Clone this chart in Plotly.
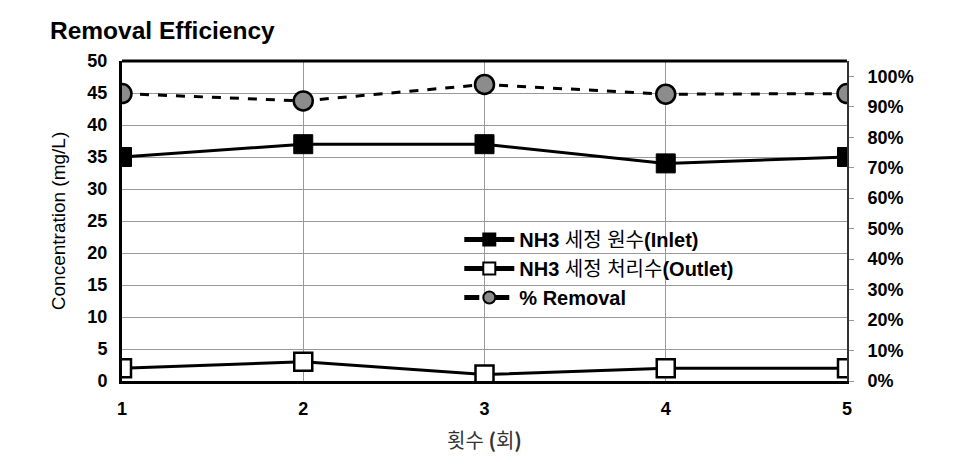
import plotly.graph_objects as go

runs = [1, 2, 3, 4, 5]
inlet = [35, 37, 37, 34, 35]
outlet = [2, 3, 1, 2, 2]
removal = [0.943, 0.919, 0.973, 0.941, 0.943]

names = ["<b>NH3</b> 세정 원수<b>(Inlet)</b>", "<b>NH3</b> 세정 처리수<b>(Outlet)</b>", "<b>% Removal</b>"]
FONT = "Liberation Sans, Arial, Noto Sans CJK KR, sans-serif"

fig = go.Figure()
fig.add_trace(go.Scatter(
    x=runs, y=inlet, name=names[0], mode="lines+markers",
    line=dict(color="black", width=3),
    marker=dict(symbol="square", size=19, color="black", line=dict(color="black", width=1)),
))
fig.add_trace(go.Scatter(
    x=runs, y=outlet, name=names[1], mode="lines+markers",
    line=dict(color="black", width=3),
    marker=dict(symbol="square", size=18, color="white", line=dict(color="black", width=2.5)),
))
fig.add_trace(go.Scatter(
    x=runs, y=removal, name=names[2], mode="lines+markers", yaxis="y2",
    line=dict(color="black", width=3, dash="dash"),
    marker=dict(symbol="circle", size=19, color="#8c8c8c", line=dict(color="black", width=2.5)),
))

fig.update_layout(
    width=978, height=471,
    margin=dict(l=122, r=131, t=61, b=90),
    paper_bgcolor="white", plot_bgcolor="white",
    font=dict(family=FONT, color="black"),
    title=dict(text="<b>Removal Efficiency</b>", x=50/978, xanchor="left",
               y=1-30/471, yanchor="middle", font=dict(size=24.5, family=FONT)),
    showlegend=True,
    legend=dict(x=455/978, y=1-234/471, xanchor="left", yanchor="top",
                xref="paper", yref="paper", bgcolor="rgba(0,0,0,0)",
                font=dict(size=20, family="Liberation Sans, Noto Sans CJK KR, sans-serif"),
                tracegroupgap=0, itemwidth=50, itemsizing="constant"),
    xaxis=dict(range=[1, 5], tickvals=runs, ticktext=[f"<b>{r}</b>" for r in runs],
               showgrid=True, gridcolor="#999999", gridwidth=1,
               showline=True, linecolor="black", linewidth=3, mirror=False,
               ticks="", ticklabelstandoff=9, tickfont=dict(size=18),
               title=dict(text="횟수 <b>(</b>회<b>)</b>", font=dict(size=20, color="#333333",
                          family="Noto Sans CJK KR, sans-serif"), standoff=17),
               zeroline=False),
    yaxis=dict(range=[0, 50], tickvals=list(range(0, 51, 5)),
               ticktext=[f"<b>{v}</b>" for v in range(0, 51, 5)],
               showgrid=True, gridcolor="#999999", gridwidth=1,
               showline=True, linecolor="black", linewidth=3,
               ticks="", ticklabelstandoff=8, tickfont=dict(size=18),
               title=dict(text="Concentration (mg/L)", font=dict(size=19), standoff=17),
               zeroline=False),
    yaxis2=dict(range=[0, 1.05], overlaying="y", side="right",
                tickvals=[i/10 for i in range(11)],
                ticktext=[f"<b>{i*10}%</b>" for i in range(11)],
                showgrid=False, showline=True, linecolor="#333333", linewidth=2,
                ticks="outside", ticklen=5, tickcolor="#999999",
                tickfont=dict(size=18), ticklabelstandoff=10, zeroline=False),
)

fig.add_shape(type="line", xref="paper", yref="paper", x0=0, x1=1, y0=1, y1=1,
              line=dict(color="black", width=3))

fig.write_html("out.html")
